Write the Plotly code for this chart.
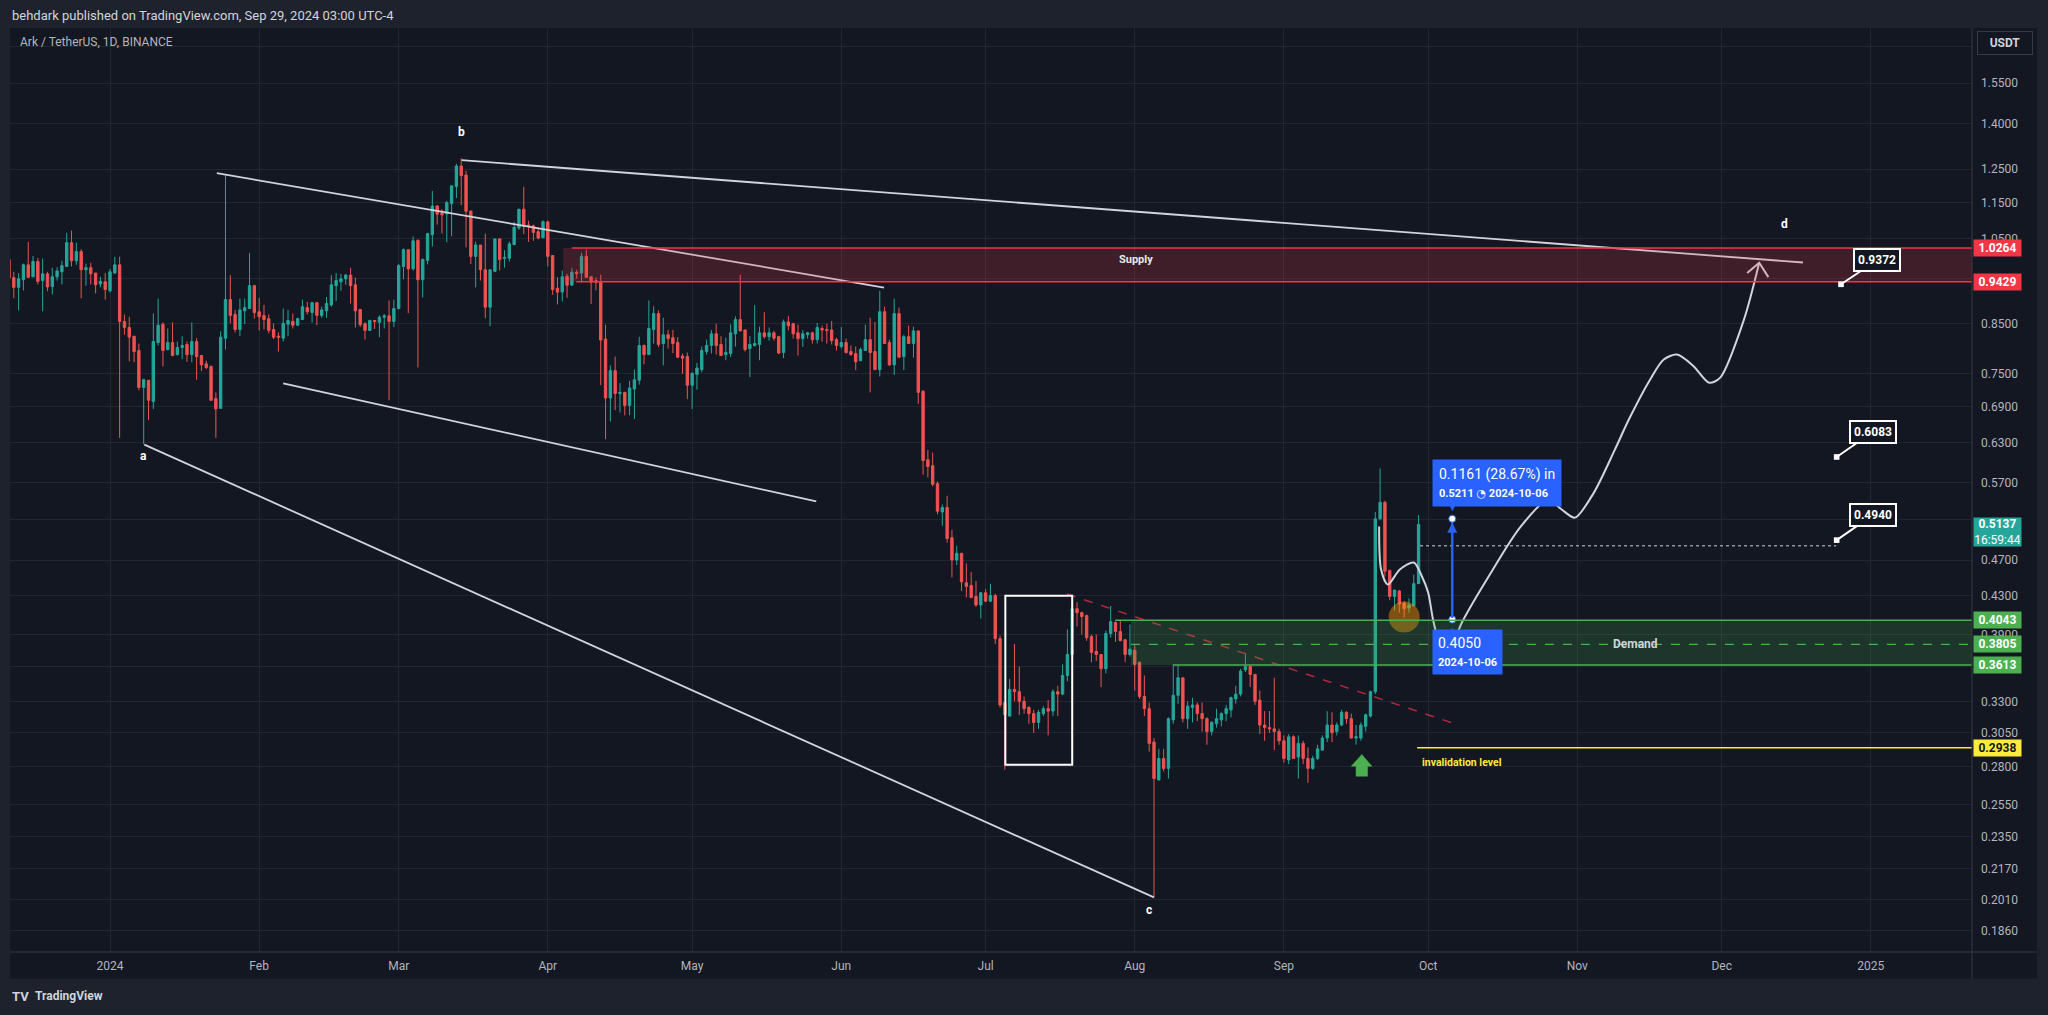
import math
import pandas as pd
import plotly.graph_objects as go

FONT = "Roboto, Arial, sans-serif"
BG_OUT = "#1e222d"
BG = "#131722"
GRID = "#222633"
AXIS_LINE = "#363a45"
AXIS_TXT = "#b2b5be"
UP = "#26a69a"
DOWN = "#ef5350"

# ---------------- data: ARK/USDT daily candles, 2023-12-11 .. 2024-09-29 ----------------
first_day = "2023-12-11"
opens = [
    0.997, 0.953, 0.930, 0.948, 0.984, 0.955, 0.992, 0.946, 0.962, 0.932,
    0.955, 0.967, 0.980, 1.040, 0.994, 1.017, 0.972, 0.977, 0.964, 0.938,
    0.943, 0.922, 0.964, 0.984, 0.854, 0.841, 0.823, 0.794, 0.724, 0.737,
    0.699, 0.810, 0.848, 0.796, 0.810, 0.786, 0.800, 0.806, 0.786, 0.812,
    0.784, 0.768, 0.763, 0.704, 0.687, 0.819, 0.902, 0.869, 0.837, 0.877,
    0.882, 0.934, 0.875, 0.867, 0.860, 0.837, 0.823, 0.819, 0.848, 0.854,
    0.846, 0.858, 0.884, 0.873, 0.895, 0.867, 0.877, 0.890, 0.934, 0.943,
    0.950, 0.959, 0.936, 0.880, 0.849, 0.835, 0.856, 0.852, 0.863, 0.866,
    0.854, 0.882, 0.980, 1.022, 0.974, 1.046, 0.948, 0.995, 1.061, 1.140,
    1.120, 1.118, 1.147, 1.197, 1.260, 1.232, 1.126, 1.005, 1.034, 0.972,
    0.885, 0.968, 1.050, 1.000, 1.000, 1.035, 1.079, 1.131, 1.087, 1.085,
    1.069, 1.053, 1.096, 1.007, 0.928, 0.919, 0.956, 0.935, 0.966, 0.964,
    1.005, 0.955, 0.946, 0.942, 0.817, 0.705, 0.755, 0.713, 0.715, 0.692,
    0.721, 0.737, 0.804, 0.786, 0.837, 0.871, 0.808, 0.826, 0.820, 0.810,
    0.783, 0.782, 0.728, 0.748, 0.757, 0.792, 0.804, 0.828, 0.806, 0.786,
    0.788, 0.828, 0.858, 0.836, 0.798, 0.804, 0.806, 0.830, 0.822, 0.830,
    0.822, 0.790, 0.853, 0.849, 0.830, 0.818, 0.826, 0.830, 0.816, 0.839,
    0.837, 0.836, 0.816, 0.802, 0.810, 0.792, 0.788, 0.774, 0.794, 0.816,
    0.792, 0.757, 0.875, 0.810, 0.766, 0.871, 0.782, 0.822, 0.808, 0.834,
    0.717, 0.604, 0.595, 0.569, 0.530, 0.536, 0.497, 0.470, 0.478, 0.444,
    0.441, 0.429, 0.420, 0.433, 0.424, 0.430, 0.386, 0.329, 0.318, 0.340,
    0.338, 0.330, 0.325, 0.320, 0.313, 0.320, 0.324, 0.322, 0.338, 0.336,
    0.352, 0.371, 0.416, 0.412, 0.409, 0.388, 0.374, 0.371, 0.358, 0.391,
    0.402, 0.393, 0.385, 0.371, 0.375, 0.364, 0.334, 0.324, 0.298, 0.271,
    0.286, 0.279, 0.315, 0.335, 0.350, 0.316, 0.325, 0.327, 0.320, 0.316,
    0.306, 0.312, 0.315, 0.320, 0.323, 0.332, 0.336, 0.357, 0.360, 0.353,
    0.331, 0.311, 0.309, 0.308, 0.306, 0.299, 0.285, 0.302, 0.287, 0.297,
    0.286, 0.279, 0.286, 0.292, 0.301, 0.311, 0.306, 0.311, 0.321, 0.316,
    0.301, 0.301, 0.310, 0.318, 0.338, 0.521, 0.543, 0.458, 0.429, 0.435,
    0.422, 0.417, 0.419, 0.443,
]
highs = [
    1.061, 0.967, 0.964, 0.987, 1.042, 1.006, 1.001, 0.999, 0.967, 0.977,
    0.978, 0.994, 1.066, 1.072, 1.040, 1.023, 0.987, 0.989, 0.964, 0.955,
    0.964, 0.974, 1.004, 1.004, 0.869, 0.864, 0.823, 0.808, 0.740, 0.737,
    0.871, 0.904, 0.852, 0.839, 0.852, 0.812, 0.823, 0.812, 0.852, 0.819,
    0.784, 0.774, 0.765, 0.715, 0.833, 1.235, 0.959, 0.879, 0.904, 0.904,
    1.014, 0.936, 0.906, 0.890, 0.869, 0.850, 0.831, 0.882, 0.879, 0.871,
    0.862, 0.902, 0.897, 0.897, 0.897, 0.886, 0.908, 0.959, 0.964, 0.962,
    0.962, 0.977, 0.953, 0.880, 0.852, 0.858, 0.856, 0.867, 0.870, 0.900,
    0.902, 0.986, 1.025, 1.022, 1.056, 1.049, 1.000, 1.066, 1.184, 1.143,
    1.131, 1.155, 1.199, 1.267, 1.285, 1.245, 1.126, 1.043, 1.034, 1.064,
    0.972, 1.050, 1.052, 1.021, 1.043, 1.096, 1.131, 1.196, 1.099, 1.088,
    1.081, 1.100, 1.099, 1.007, 0.954, 0.970, 0.962, 0.976, 0.972, 1.014,
    1.022, 0.955, 0.953, 0.960, 0.847, 0.765, 0.782, 0.732, 0.716, 0.736,
    0.757, 0.822, 0.806, 0.900, 0.887, 0.878, 0.862, 0.836, 0.836, 0.821,
    0.788, 0.790, 0.752, 0.770, 0.802, 0.816, 0.836, 0.849, 0.823, 0.820,
    0.848, 0.865, 0.960, 0.836, 0.823, 0.890, 0.843, 0.874, 0.841, 0.834,
    0.824, 0.858, 0.866, 0.851, 0.847, 0.836, 0.832, 0.832, 0.851, 0.845,
    0.849, 0.855, 0.820, 0.842, 0.818, 0.804, 0.802, 0.800, 0.847, 0.862,
    0.853, 0.922, 0.886, 0.816, 0.904, 0.884, 0.826, 0.845, 0.843, 0.834,
    0.719, 0.619, 0.615, 0.572, 0.540, 0.552, 0.507, 0.487, 0.478, 0.466,
    0.456, 0.446, 0.434, 0.437, 0.443, 0.432, 0.389, 0.329, 0.349, 0.381,
    0.360, 0.334, 0.326, 0.323, 0.323, 0.326, 0.331, 0.340, 0.343, 0.362,
    0.395, 0.420, 0.423, 0.413, 0.410, 0.390, 0.390, 0.371, 0.394, 0.419,
    0.403, 0.404, 0.385, 0.400, 0.381, 0.364, 0.352, 0.329, 0.301, 0.293,
    0.293, 0.317, 0.362, 0.361, 0.350, 0.330, 0.333, 0.329, 0.329, 0.317,
    0.314, 0.324, 0.321, 0.327, 0.334, 0.343, 0.358, 0.372, 0.361, 0.353,
    0.339, 0.322, 0.322, 0.350, 0.308, 0.303, 0.304, 0.303, 0.303, 0.299,
    0.294, 0.288, 0.296, 0.303, 0.322, 0.321, 0.313, 0.323, 0.322, 0.320,
    0.311, 0.313, 0.320, 0.339, 0.530, 0.591, 0.545, 0.458, 0.436, 0.436,
    0.424, 0.427, 0.453, 0.526,
]
lows = [
    0.948, 0.905, 0.878, 0.923, 0.952, 0.954, 0.937, 0.876, 0.921, 0.914,
    0.946, 0.937, 0.979, 0.980, 0.984, 0.905, 0.934, 0.937, 0.916, 0.930,
    0.902, 0.918, 0.962, 0.638, 0.826, 0.773, 0.771, 0.719, 0.628, 0.667,
    0.686, 0.804, 0.763, 0.794, 0.783, 0.784, 0.777, 0.772, 0.771, 0.738,
    0.754, 0.758, 0.701, 0.638, 0.687, 0.796, 0.850, 0.831, 0.823, 0.848,
    0.882, 0.860, 0.835, 0.837, 0.829, 0.817, 0.792, 0.812, 0.823, 0.839,
    0.844, 0.858, 0.869, 0.852, 0.846, 0.862, 0.862, 0.886, 0.899, 0.922,
    0.936, 0.893, 0.841, 0.842, 0.816, 0.835, 0.838, 0.821, 0.839, 0.701,
    0.842, 0.880, 0.949, 0.872, 0.970, 0.761, 0.907, 0.985, 1.030, 1.088,
    1.064, 1.041, 1.057, 1.163, 1.142, 1.028, 0.986, 0.930, 0.946, 0.861,
    0.844, 0.966, 0.970, 0.977, 0.992, 1.035, 1.074, 1.063, 1.042, 1.045,
    1.049, 1.053, 0.980, 0.913, 0.891, 0.898, 0.906, 0.935, 0.951, 0.942,
    0.952, 0.892, 0.923, 0.728, 0.636, 0.665, 0.684, 0.680, 0.675, 0.675,
    0.669, 0.729, 0.767, 0.786, 0.808, 0.801, 0.765, 0.798, 0.789, 0.779,
    0.749, 0.703, 0.686, 0.720, 0.752, 0.786, 0.788, 0.786, 0.784, 0.775,
    0.781, 0.802, 0.833, 0.792, 0.743, 0.802, 0.775, 0.818, 0.814, 0.814,
    0.787, 0.779, 0.835, 0.818, 0.784, 0.801, 0.818, 0.808, 0.808, 0.812,
    0.808, 0.806, 0.794, 0.798, 0.788, 0.784, 0.756, 0.774, 0.794, 0.715,
    0.756, 0.744, 0.808, 0.764, 0.747, 0.779, 0.756, 0.808, 0.780, 0.695,
    0.582, 0.578, 0.565, 0.527, 0.512, 0.491, 0.450, 0.464, 0.435, 0.428,
    0.427, 0.418, 0.406, 0.423, 0.423, 0.381, 0.325, 0.278, 0.318, 0.330,
    0.319, 0.320, 0.312, 0.305, 0.308, 0.318, 0.303, 0.318, 0.318, 0.335,
    0.347, 0.371, 0.398, 0.390, 0.384, 0.364, 0.365, 0.342, 0.354, 0.387,
    0.383, 0.384, 0.364, 0.369, 0.339, 0.332, 0.318, 0.291, 0.202, 0.271,
    0.277, 0.272, 0.312, 0.328, 0.313, 0.308, 0.313, 0.314, 0.306, 0.296,
    0.303, 0.309, 0.310, 0.314, 0.317, 0.328, 0.334, 0.355, 0.342, 0.327,
    0.304, 0.299, 0.305, 0.292, 0.296, 0.283, 0.282, 0.286, 0.272, 0.282,
    0.269, 0.278, 0.285, 0.292, 0.298, 0.298, 0.303, 0.310, 0.312, 0.301,
    0.296, 0.299, 0.306, 0.317, 0.336, 0.519, 0.451, 0.425, 0.414, 0.412,
    0.407, 0.412, 0.419, 0.443,
]
closes = [
    0.952, 0.930, 0.950, 0.984, 0.954, 0.992, 0.944, 0.962, 0.931, 0.955,
    0.969, 0.982, 1.040, 0.994, 1.017, 0.972, 0.977, 0.962, 0.936, 0.944,
    0.925, 0.967, 0.984, 0.854, 0.841, 0.821, 0.792, 0.724, 0.738, 0.701,
    0.812, 0.846, 0.794, 0.810, 0.784, 0.800, 0.804, 0.786, 0.812, 0.782,
    0.766, 0.761, 0.701, 0.686, 0.821, 0.902, 0.867, 0.837, 0.879, 0.884,
    0.934, 0.873, 0.864, 0.858, 0.835, 0.821, 0.821, 0.850, 0.856, 0.846,
    0.860, 0.886, 0.875, 0.895, 0.867, 0.879, 0.893, 0.936, 0.946, 0.950,
    0.959, 0.934, 0.877, 0.847, 0.835, 0.856, 0.854, 0.863, 0.866, 0.854,
    0.882, 0.982, 1.022, 0.974, 1.045, 0.948, 0.997, 1.064, 1.140, 1.117,
    1.115, 1.150, 1.199, 1.260, 1.230, 1.125, 1.005, 1.034, 0.972, 0.885,
    0.972, 1.050, 0.997, 1.002, 1.037, 1.081, 1.131, 1.085, 1.083, 1.067,
    1.052, 1.096, 1.005, 0.925, 0.919, 0.955, 0.935, 0.966, 0.963, 1.005,
    0.954, 0.942, 0.942, 0.815, 0.705, 0.755, 0.713, 0.715, 0.692, 0.723,
    0.738, 0.804, 0.786, 0.839, 0.871, 0.806, 0.826, 0.818, 0.808, 0.781,
    0.779, 0.728, 0.750, 0.760, 0.794, 0.804, 0.828, 0.804, 0.784, 0.790,
    0.830, 0.858, 0.834, 0.796, 0.806, 0.808, 0.830, 0.822, 0.830, 0.819,
    0.789, 0.853, 0.845, 0.828, 0.818, 0.828, 0.830, 0.816, 0.841, 0.836,
    0.835, 0.814, 0.804, 0.810, 0.790, 0.786, 0.772, 0.796, 0.816, 0.790,
    0.757, 0.875, 0.808, 0.766, 0.871, 0.781, 0.822, 0.808, 0.834, 0.715,
    0.603, 0.594, 0.568, 0.531, 0.536, 0.496, 0.470, 0.478, 0.445, 0.440,
    0.428, 0.420, 0.433, 0.424, 0.430, 0.386, 0.327, 0.319, 0.340, 0.338,
    0.330, 0.324, 0.320, 0.313, 0.321, 0.324, 0.322, 0.338, 0.336, 0.352,
    0.371, 0.416, 0.412, 0.408, 0.387, 0.373, 0.371, 0.358, 0.391, 0.403,
    0.393, 0.384, 0.371, 0.376, 0.362, 0.334, 0.324, 0.297, 0.272, 0.286,
    0.279, 0.316, 0.335, 0.350, 0.316, 0.326, 0.327, 0.320, 0.316, 0.306,
    0.313, 0.316, 0.320, 0.324, 0.333, 0.336, 0.356, 0.360, 0.353, 0.330,
    0.311, 0.309, 0.308, 0.306, 0.299, 0.286, 0.302, 0.286, 0.297, 0.286,
    0.279, 0.286, 0.293, 0.301, 0.311, 0.305, 0.311, 0.321, 0.316, 0.301,
    0.302, 0.311, 0.319, 0.338, 0.521, 0.543, 0.457, 0.429, 0.436, 0.421,
    0.416, 0.420, 0.443, 0.5137,
]
assert len(opens) == len(highs) == len(lows) == len(closes)
dates = pd.date_range(first_day, periods=len(opens), freq="D")

price_ticks = [1.70, 1.55, 1.40, 1.25, 1.15, 1.05, 0.95, 0.85, 0.75, 0.69, 0.63, 0.57,
               0.52, 0.47, 0.43, 0.39, 0.36, 0.33, 0.305, 0.28, 0.255, 0.235, 0.217,
               0.201, 0.186]
# tick labels fully hidden behind price tags in the reference
hidden_ticks = [1.70, 0.95, 0.52, 0.36]
month_ticks = list(pd.date_range("2024-01-01", "2025-01-01", freq="MS"))
month_labels = ["2024", "Feb", "Mar", "Apr", "May", "Jun", "Jul", "Aug", "Sep",
                "Oct", "Nov", "Dec", "2025"]

# key levels
supply_top, supply_bot = 1.0264, 0.9429
demand_top, demand_mid, demand_bot = 0.4043, 0.3805, 0.3613
invalidation = 0.2938
last_price = 0.5137
measure_from, measure_to = 0.4050, 0.5211
targets = [0.9372, 0.6083, 0.4940]

# ---------------- helpers ----------------
W, H = 2048, 1015
L, R, T, B = 10, 1972, 28, 952.5


def px(X):
    return (X - L) / (R - L)


def py(Y):
    return (B - Y) / (B - T)


BASE = pd.Timestamp("2024-01-01")


def day(d):
    return BASE + pd.Timedelta(days=d)


def lg(p):
    return math.log10(p)


X_LEFT, X_RIGHT = day(-20.79), day(387.03)
Y_RANGE = [lg(0.1762), lg(1.780)]
WHITE_LINE = "#d1d4dc"

fig = go.Figure()

fig.add_trace(go.Candlestick(
    x=dates, open=opens, high=highs, low=lows, close=closes,
    increasing=dict(line=dict(color=UP, width=1), fillcolor=UP),
    decreasing=dict(line=dict(color=DOWN, width=1), fillcolor=DOWN),
    whiskerwidth=0, hoverinfo="skip", showlegend=False,
))

# orange highlight circle
fig.add_trace(go.Scatter(x=[day(269.0)], y=[0.4076], mode="markers",
                         marker=dict(size=31, color="rgba(255,152,0,0.45)", line=dict(width=0)),
                         hoverinfo="skip", showlegend=False))

# projected path
path = [(263.8, 0.511), (264.2, 0.459), (265.6, 0.442), (268.1, 0.459), (271.0, 0.467),
        (272.7, 0.451), (274.0, 0.433), (275.0, 0.405), (276.5, 0.380), (278.3, 0.3738),
        (281.0, 0.402), (287.0, 0.455), (293.1, 0.510), (298.9, 0.5466), (301.8, 0.533),
        (304.5, 0.5226), (308.4, 0.556), (312.8, 0.6195), (315.7, 0.668), (320.1, 0.738),
        (322.9, 0.776), (325.7, 0.786), (329.1, 0.764), (332.4, 0.7325), (334.7, 0.742),
        (339.6, 0.857), (342.8, 0.989)]
fig.add_trace(go.Scatter(x=[day(d) for d, _ in path], y=[p for _, p in path], mode="lines",
                         line=dict(color=WHITE_LINE, width=2, shape="spline", smoothing=0.8),
                         hoverinfo="skip", showlegend=False))
head = [(340.3, 0.9638), (342.8, 0.989), (344.7, 0.9542)]
fig.add_trace(go.Scatter(x=[day(d) for d, _ in head], y=[p for _, p in head], mode="lines",
                         line=dict(color=WHITE_LINE, width=2), hoverinfo="skip", showlegend=False))

# green up arrow
arrow = [(258.0, 0.2805), (260.2, 0.2889), (262.3, 0.2805), (261.4, 0.2805), (261.4, 0.2736),
         (259.0, 0.2736), (259.0, 0.2805), (258.0, 0.2805)]
fig.add_trace(go.Scatter(x=[day(d) for d, _ in arrow], y=[p for _, p in arrow], mode="lines",
                         fill="toself", fillcolor="#4caf50", line=dict(color="#4caf50", width=0.5),
                         hoverinfo="skip", showlegend=False))

# measuring tool
fig.add_trace(go.Scatter(x=[day(279), day(279)], y=[measure_from, measure_to], mode="lines",
                         line=dict(color="#2962ff", width=2), hoverinfo="skip", showlegend=False))
fig.add_trace(go.Scatter(x=[day(279), day(279)], y=[measure_from, measure_to], mode="markers",
                         marker=dict(color="white", size=7, line=dict(color="#2962ff", width=1)),
                         hoverinfo="skip", showlegend=False))

shapes = []


def seg(x0, y0, x1, y1, color=WHITE_LINE, width=1.8, dash="solid"):
    shapes.append(dict(type="line", xref="x", yref="y", x0=x0, y0=y0, x1=x1, y1=y1,
                       line=dict(color=color, width=width, dash=dash), layer="above"))


# panel background
shapes.append(dict(type="rect", xref="paper", yref="paper", x0=0, x1=px(2037), y0=py(979), y1=1,
                   fillcolor=BG, line=dict(width=0), layer="below"))

# trendlines
seg(day(73.1), 1.2785, day(351.9), 0.9897)
seg(day(22.2), 1.2377, day(160.9), 0.9296)
seg(day(36.0), 0.7312, day(146.8), 0.5443)
seg(day(7.13), 0.6273, day(217.0), 0.2020)
seg(day(198.9), 0.4317, day(280.2), 0.3111, color="#b2283c", width=1.5, dash="dash")

# supply zone
shapes.append(dict(type="rect", xref="x", yref="y", x0=day(94.2), x1=X_RIGHT, y0=supply_bot,
                   y1=supply_top, fillcolor="rgba(242,54,69,0.2)", line=dict(width=0), layer="above"))
seg(day(96.0), supply_top, X_RIGHT, supply_top, color="#f23645", width=1.5)
seg(day(96.9), supply_bot, X_RIGHT, supply_bot, color="#f23645", width=1.5)

# demand zone
shapes.append(dict(type="rect", xref="x", yref="y", x0=day(212.2), x1=X_RIGHT, y0=demand_bot,
                   y1=demand_top, fillcolor="rgba(76,175,80,0.2)", line=dict(width=0), layer="above"))
seg(day(208.9), demand_top, X_RIGHT, demand_top, color="#4caf50", width=1.5)
seg(day(221.0), demand_bot, X_RIGHT, demand_bot, color="#4caf50", width=1.5)
seg(day(212.2), demand_mid, X_RIGHT, demand_mid, color="#4caf50", width=1.2, dash="dash")

# invalidation
seg(day(271.7), invalidation, X_RIGHT, invalidation, color="#ffeb3b", width=1.5)

# dotted level
seg(day(272.3), 0.487, day(358.8), 0.487, color=WHITE_LINE, width=1, dash="dot")

# white consolidation box
shapes.append(dict(type="rect", xref="x", yref="y", x0=day(186.1), x1=day(200.0), y0=0.2815,
                   y1=0.4297, line=dict(color="white", width=2), fillcolor="rgba(0,0,0,0)",
                   layer="above"))

# axis frame lines
shapes.append(dict(type="line", xref="paper", yref="paper", x0=1, x1=1, y0=py(979), y1=1,
                   line=dict(color=AXIS_LINE, width=1)))
shapes.append(dict(type="line", xref="paper", yref="paper", x0=0, x1=px(2037), y0=0, y1=0,
                   line=dict(color=AXIS_LINE, width=1)))

ann = []


def txt(x, y, text, size=12, color="white", xanchor="center", yanchor="middle", xref="x",
        yref="y", **kw):
    ann.append(dict(x=x, y=y, xref=xref, yref=yref, text=text, showarrow=False,
                    font=dict(family=FONT, size=size, color=color), xanchor=xanchor,
                    yanchor=yanchor, **kw))


# header
txt(0, py(15), "behdark published on TradingView.com, Sep 29, 2024 03:00 UTC-4", size=13,
    color="#d1d4dc", xanchor="left", xref="paper", yref="paper")
txt(px(18), py(42), "Ark / TetherUS, 1D, BINANCE", size=12, color=AXIS_TXT, xanchor="left",
    xref="paper", yref="paper")
# footer
txt(px(10), py(997), "<b>TV</b>", size=13, color="#d1d4dc", xanchor="left", xref="paper",
    yref="paper")
txt(px(33), py(997), "<b>TradingView</b>", size=12, color="#d1d4dc", xanchor="left",
    xref="paper", yref="paper")

# wave labels
txt(day(7.0), lg(0.6105), "<b>a</b>", size=12)
txt(day(72.96), lg(1.372), "<b>b</b>", size=12)
txt(day(216.0), lg(0.1959), "<b>c</b>", size=12)
txt(day(348.1), lg(1.0902), "<b>d</b>", size=12)

txt(day(213.3), lg(0.9963), "<b>Supply</b>", size=11, color="#e8e8e8")
txt(day(317.1), lg(demand_mid), "<b>Demand</b>", size=12, color="#d1d4dc")
txt(day(272.3), lg(0.2829), "<b>invalidation level</b>", size=10.5, color="#ffeb3b",
    xanchor="left")

# target callouts
for price, dd, axp, ayp in [(targets[0], 359.8, 36, -24), (targets[1], 358.9, 36, -25),
                            (targets[2], 358.9, 36, -25)]:
    ann.append(dict(x=day(dd), y=lg(price), xref="x", yref="y", text=f"<b>{price:.4f}</b>",
                    showarrow=True, ax=axp, ay=ayp, arrowhead=7, arrowsize=0.7, arrowwidth=2,
                    arrowcolor="white", bgcolor=BG, bordercolor="white", borderwidth=2,
                    borderpad=3, font=dict(family=FONT, size=12, color="white")))

# measuring tool labels
ann.append(dict(x=day(279), y=lg(measure_to), xref="x", yref="y", ax=day(279),
                ay=lg(measure_from), axref="x", ayref="y", text="", showarrow=True,
                arrowhead=2, arrowsize=1, arrowwidth=2, arrowcolor="#2962ff", standoff=4))
pct = (measure_to - measure_from) / measure_from * 100
ann.append(dict(x=day(279), y=lg(measure_to), xref="x", yref="y", xanchor="left",
                yanchor="bottom", xshift=-20, yshift=12, showarrow=False, align="left",
                text=(f"{measure_to - measure_from:.4f} ({pct:.2f}%) in<br>"
                      f"<b><span style='font-size:11px'>{measure_to:.4f} "
                      f"<span style='font-family:DejaVu Sans'>◔</span> 2024-10-06</span></b>"),
                bgcolor="#2962ff", borderpad=6, font=dict(family=FONT, size=14, color="white")))
ann.append(dict(x=day(279), y=lg(measure_to), xref="x", yref="y", yanchor="bottom", yshift=4,
                showarrow=False, text="▼", font=dict(size=9, color="#2962ff")))
ann.append(dict(x=day(279), y=lg(measure_from), xref="x", yref="y", xanchor="left",
                yanchor="top", xshift=-20, yshift=-10, showarrow=False, align="left",
                text=f"{measure_from:.4f}<br><b><span style='font-size:11px'>2024-10-06</span></b>",
                bgcolor="#2962ff", borderpad=5, font=dict(family=FONT, size=14, color="white")))
ann.append(dict(x=day(279), y=lg(measure_from), xref="x", yref="y", yanchor="top", yshift=-4,
                showarrow=False, text="▲", font=dict(size=9, color="#2962ff")))


# price axis tags
def tag(price, text, bg, fg="white", h=14, yshift=0):
    ann.append(dict(xref="paper", x=px(1973), xanchor="left", yref="y", y=lg(price),
                    yanchor="middle", yshift=yshift, text=text, showarrow=False,
                    font=dict(family=FONT, size=12, color=fg), bgcolor=bg, width=45, height=h,
                    borderpad=1, align="center"))


tag(supply_top, f"<b>{supply_top:.4f}</b>", "#f23645")
tag(supply_bot, f"<b>{supply_bot:.4f}</b>", "#f23645")
tag(demand_top, f"<b>{demand_top:.4f}</b>", "#4caf50")
tag(demand_mid, f"<b>{demand_mid:.4f}</b>", "#4caf50")
tag(demand_bot, f"<b>{demand_bot:.4f}</b>", "#4caf50")
tag(invalidation, f"<b>{invalidation:.4f}</b>", "#ffeb3b", fg="#131722")
tag(last_price, f"<b>{last_price:.4f}</b><br>16:59:44", "#26a69a", h=26, yshift=-7.5)

ann.append(dict(xref="paper", yref="paper", x=px(2005), y=py(43.5), xanchor="center",
                yanchor="middle", text="<b>USDT</b>", showarrow=False,
                font=dict(family=FONT, size=12, color="#d1d4dc"), bgcolor=BG,
                bordercolor="#363a45", borderwidth=1, width=52, height=20))

fig.update_layout(
    width=W, height=H, autosize=False,
    margin=dict(l=L, r=W - R, t=T, b=H - B, pad=0),
    paper_bgcolor=BG_OUT, plot_bgcolor=BG,
    showlegend=False, hovermode=False,
    font=dict(family=FONT, size=12, color=AXIS_TXT),
    shapes=shapes, annotations=ann,
    xaxis=dict(type="date", range=[X_LEFT, X_RIGHT], rangeslider=dict(visible=False),
               tickvals=month_ticks, ticktext=month_labels, showgrid=True, gridcolor=GRID,
               gridwidth=1, ticks="", showline=False, zeroline=False,
               tickfont=dict(family=FONT, size=12, color=AXIS_TXT), ticklabelstandoff=5,
               fixedrange=True),
    yaxis=dict(type="log", side="right", range=Y_RANGE, tickvals=price_ticks,
               ticktext=["" if v in hidden_ticks else f"{v:.4f}" for v in price_ticks],
               showgrid=True, gridcolor=GRID, gridwidth=1, ticks="", showline=False,
               zeroline=False, tickfont=dict(family=FONT, size=12, color=AXIS_TXT),
               ticklabelstandoff=8, fixedrange=True),
)

fig.write_html("out.html", config={"displayModeBar": False, "staticPlot": True},
               post_script="document.body.style.margin='0';document.body.style.overflow='hidden';")
